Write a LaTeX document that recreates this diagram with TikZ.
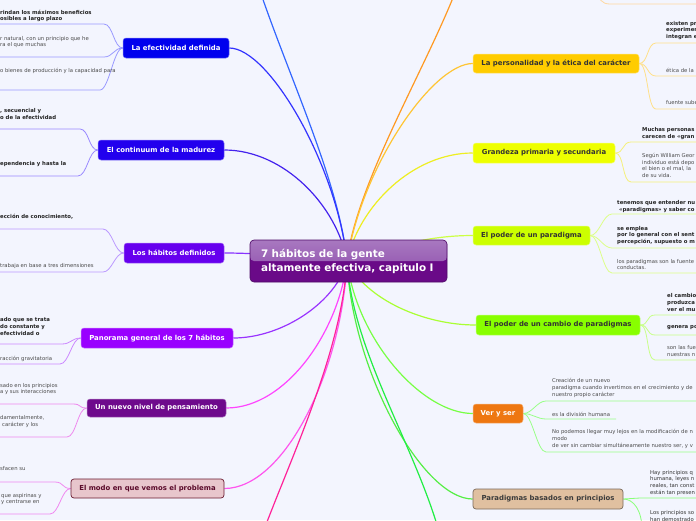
\documentclass[tikz,border=0pt]{standalone}
\usepackage{fontspec}
\setmainfont{DejaVu Sans}
\pgfdeclarelayer{bg}
\pgfsetlayers{bg,main}
\definecolor{bgc}{HTML}{F3F5FE}
\definecolor{cenT}{HTML}{A878C0}
\definecolor{cenM}{HTML}{8C4AAA}
\definecolor{cenB}{HTML}{6A0A88}
\definecolor{cenD}{HTML}{4E0A66}
\definecolor{effF}{HTML}{0000EE}
\definecolor{contF}{HTML}{2200EE}
\definecolor{habF}{HTML}{6600EE}
\definecolor{panF}{HTML}{9900FF}
\definecolor{nivF}{HTML}{6E0A8C}
\definecolor{modoF}{HTML}{E8C6CC}
\definecolor{modoD}{HTML}{6A1A30}
\definecolor{modoT}{HTML}{5A0A2A}
\definecolor{persF}{HTML}{FFCC00}
\definecolor{granF}{HTML}{EEFF00}
\definecolor{parF}{HTML}{CCFF00}
\definecolor{cambF}{HTML}{88FF00}
\definecolor{verF}{HTML}{EE7711}
\definecolor{basF}{HTML}{E0C0A0}
\definecolor{basD}{HTML}{7A6A5A}
\definecolor{lOffB}{HTML}{3366FF}
\definecolor{lEff}{HTML}{3333FF}
\definecolor{lCont}{HTML}{4422EE}
\definecolor{lHab}{HTML}{8833FF}
\definecolor{lPan}{HTML}{9933FF}
\definecolor{lNiv}{HTML}{FF44FF}
\definecolor{lModo}{HTML}{FF55EE}
\definecolor{lOffP}{HTML}{FF2299}
\definecolor{lOffO}{HTML}{FF9922}
\definecolor{lPers}{HTML}{FFC533}
\definecolor{lGran}{HTML}{EEEE22}
\definecolor{lPar}{HTML}{CCFF44}
\definecolor{lCamb}{HTML}{AAFF33}
\definecolor{lVer}{HTML}{77FF44}
\definecolor{lBas}{HTML}{55EE44}
\definecolor{lOffG}{HTML}{22EE44}
\definecolor{sEff}{HTML}{9999FF}
\definecolor{sCont}{HTML}{9988FF}
\definecolor{sHab}{HTML}{BB99FF}
\definecolor{sPan}{HTML}{CC88FF}
\definecolor{sNiv}{HTML}{EE88EE}
\definecolor{sModo}{HTML}{F088F0}
\definecolor{sPers}{HTML}{FFE08A}
\definecolor{sGran}{HTML}{F5F07A}
\definecolor{sPar}{HTML}{DDFF88}
\definecolor{sCamb}{HTML}{C8FF88}
\definecolor{sVer}{HTML}{99FF88}
\definecolor{sBas}{HTML}{88FF77}
\definecolor{sOffO}{HTML}{FFD8A0}
\definecolor{txB}{HTML}{222222}
\definecolor{txN}{HTML}{4A4A4A}
\definecolor{txD}{HTML}{333333}
\newcommand{\subl}[5]{%
  \coordinate (#3) at (#4,#5);
  \coordinate (#3o) at (-3,#5);
  \draw[sub,#1] (#2.west) .. controls +(-9,0) and +(9,0) .. (#3) -- (#3o);}
\newcommand{\subr}[5]{%
  \coordinate (#3) at (#4,#5);
  \coordinate (#3o) at (700,#5);
  \draw[sub,#1] (#2.east) .. controls +(9,0) and +(-9,0) .. (#3) -- (#3o);}
\begin{document}
\begin{tikzpicture}[x=1pt,y=-1pt,
  br/.style={rounded corners=3pt, minimum height=20pt, inner sep=0pt,
    font=\fontsize{6.9}{8}\selectfont\bfseries, text=white, line width=0.5pt},
  central/.style={rounded corners=4pt, draw=cenD, line width=0.6pt, fill=cenB,
    minimum width=197pt, minimum height=42pt, text width=175pt,
    inner xsep=11pt, inner ysep=0pt, align=left,
    font=\fontsize{10.4}{14}\selectfont\bfseries, text=white,
    path picture={\shade[top color=cenT, bottom color=cenM]
      (path picture bounding box.north west) rectangle (path picture bounding box.east);}},
  tb/.style={font=\fontsize{5.35}{6.8}\selectfont\bfseries, text=txB, align=left,
    inner sep=0pt, anchor=west},
  tn/.style={font=\fontsize{5.3}{6.8}\selectfont, text=txN, align=left,
    inner sep=0pt, anchor=west},
  mc/.style={line width=1.2pt},
  sub/.style={line width=0.8pt}]
\useasboundingbox (0,0) rectangle (696,520);
\begin{pgfonlayer}{bg}
\fill[bgc] (0,0) rectangle (696,520);
\end{pgfonlayer}

% central
\node[central] (c) at (348.5,261) {7 hábitos de la gente\\altamente efectiva, capitulo I};
\coordinate (ctr) at (347,261);

% left branches
\node[br, fill=effF, draw=effF!55!white, minimum width=106pt] (eff) at (176,48) {La efectividad definida};
\node[br, fill=contF, draw=contF!55!white, minimum width=126pt] (cont) at (161,150) {El continuum de la madurez};
\node[br, fill=habF, draw=habF!55!white, minimum width=100pt] (hab) at (174,253) {Los hábitos definidos};
\node[br, fill=panF, draw=panF!55!white, minimum width=152pt] (pan) at (157,338) {Panorama general de los 7 hábitos};
\node[br, fill=nivF, draw=nivF!55!white, minimum width=139pt, minimum height=18pt] (niv) at (156.5,408) {Un nuevo nivel de pensamiento};
\node[br, fill=modoF, draw=modoD, line width=0.7pt, text=modoT, minimum width=153pt, minimum height=19pt] (modo) at (147.5,488.5) {El modo en que vemos el problema};

% right branches
\node[br, fill=persF, draw=persF!55!white, text=txD, minimum width=166pt, minimum height=19pt] (pers) at (556,63.5) {La personalidad y la ética del carácter};
\node[br, fill=granF, draw=granF!55!white, text=txD, minimum width=142pt] (gran) at (544,153) {Grandeza primaria y secundaria};
\node[br, fill=parF, draw=parF!55!white, text=txD, minimum width=117pt, minimum height=19pt] (par) at (531.5,235.5) {El poder de un paradigma};
\node[br, fill=cambF, draw=cambF!55!white, text=txD, minimum width=164pt] (camb) at (558,325) {El poder de un cambio de paradigmas};
\node[br, fill=verF, draw=verF!55!white, minimum width=50pt, minimum height=19pt] (ver) at (498,413.5) {Ver y ser};
\node[br, fill=basF, draw=basD, line width=0.7pt, text=txN!80!black, minimum width=150pt] (bas) at (548,499) {Paradigmas basados en principios};

% off-canvas ends
\coordinate (offB) at (258,-15);
\coordinate (offO) at (458,-15);
\coordinate (offP) at (262,535);
\coordinate (offG) at (440,535);

\begin{pgfonlayer}{bg}
\draw[mc,lOffB] (offB) .. controls +(30,90) and +(-8,-80) .. (ctr);
\draw[mc,lEff] (eff.east) .. controls +(40,0) and +(-10,-95) .. (ctr);
\draw[mc,lCont] (cont.east) .. controls +(60,0) and +(-10,-55) .. (ctr);
\draw[mc,lHab] (hab.east) .. controls +(40,0) and +(-40,-3) .. (ctr);
\draw[mc,lPan] (pan.east) .. controls +(50,0) and +(-10,40) .. (ctr);
\draw[mc,lNiv] (niv.east) .. controls +(60,0) and +(-8,70) .. (ctr);
\draw[mc,lModo] (modo.east) .. controls +(60,0) and +(-5,110) .. (ctr);
\draw[mc,lOffP] (offP) .. controls +(30,-80) and +(-5,90) .. (ctr);
\draw[mc,lOffO] (offO) .. controls +(-30,80) and +(10,-80) .. (ctr);
\draw[mc,lPers] (pers.west) .. controls +(-40,0) and +(15,-95) .. (ctr);
\draw[mc,lGran] (gran.west) .. controls +(-60,0) and +(12,-55) .. (ctr);
\draw[mc,lPar] (par.west) .. controls +(-50,0) and +(40,-12) .. (ctr);
\draw[mc,lCamb] (camb.west) .. controls +(-50,0) and +(20,40) .. (ctr);
\draw[mc,lVer] (ver.west) .. controls +(-50,0) and +(10,80) .. (ctr);
\draw[mc,lBas] (bas.west) .. controls +(-50,0) and +(5,110) .. (ctr);
\draw[mc,lOffG] (offG) .. controls +(-25,-90) and +(5,90) .. (ctr);

% sub-branches left
\subl{sEff}{eff}{ea}{104}{24}
\subl{sEff}{eff}{eb}{104}{57}
\subl{sEff}{eff}{ec}{100}{90}
\subl{sCont}{cont}{ca}{80}{129}
\subl{sCont}{cont}{cb}{78}{176}
\subl{sHab}{hab}{ha}{103}{229}
\subl{sHab}{hab}{hb}{103}{272}
\subl{sPan}{pan}{pa}{62}{344}
\subl{sPan}{pan}{pb}{60}{364}
\subl{sNiv}{niv}{na}{73}{404}
\subl{sNiv}{niv}{nb}{67}{437}
\subl{sModo}{modo}{ma}{55}{482}
\subl{sModo}{modo}{mb}{50}{514}

% sub-branches right
\coordinate (oa0) at (598,-12);
\coordinate (oa) at (610,4);
\coordinate (oao) at (700,4);
\draw[sub,sOffO] (oa0) .. controls +(0,12) and +(-8,0) .. (oa) -- (oao);
\subr{sPers}{pers}{ra}{656}{43}
\subr{sPers}{pers}{rb}{656}{76}
\subr{sPers}{pers}{rc}{656}{109}
\subr{sGran}{gran}{ga}{631}{142}
\subr{sGran}{gran}{gb}{631}{182}
\subr{sPar}{par}{qa}{612}{214}
\subr{sPar}{par}{qb}{612}{248}
\subr{sPar}{par}{qc}{612}{273}
\subr{sCamb}{camb}{ka}{655}{315}
\subr{sCamb}{camb}{kb}{655}{335}
\subr{sCamb}{camb}{kc}{655}{360}
\subr{sVer}{ver}{va}{546}{401}
\subr{sVer}{ver}{vc}{546}{452}
\coordinate (vb) at (546,419);
\coordinate (vbo) at (616,419);
\draw[sub,sVer] (ver.east) .. controls +(9,0) and +(-9,0) .. (vb) -- (vbo);
\subr{sBas}{bas}{ba}{640}{498}
\coordinate (bb) at (642,530);
\draw[sub,sBas] (bas.east) .. controls +(10,0) and +(0,-20) .. (bb);
\end{pgfonlayer}

% texts left
\node[tb] (e1) at (0,16) {rindan los máximos beneficios\\osibles a largo plazo};
\node[tn] (e2) at (0,42) {r natural, con un principio que he\\ra el que muchas};
\node[tn] (e3) at (0,71) {o bienes de producción y la capacidad para};
\node[tb] (c1) at (0,114) {, secuencial y\\o de la efectividad};
\node[tb] (c2) at (0,164) {ependencia y hasta la};
\node[tb] (h1) at (0,217) {ección de conocimiento,};
\node[tn] (h2) at (0,266) {trabaja en base a tres dimensiones};
\node[tb] (p1) at (0,326.5) {ado que se trata\\do constante y\\efectividad o};
\node[tn] (p2) at (0,359) {racción gravitatoria};
\node[tn] (n1) at (0,389) {sado en los principios\\a y sus interacciones};
\node[tn] (n2) at (0,421.7) {damentalmente,\\\hspace{2pt}carácter y los};
\node[tn] (m1) at (0,469) {sfacen su};
\node[tn] (m2) at (1,499) {que aspirinas y\\y centrarse en};

% texts right
\node[tb] (r1) at (666,30.5) {existen pr\\experimen\\integran e};
\node[tn] (r2) at (666,70) {ética de la};
\node[tn] (r3) at (666,103) {fuente sube};
\node[tb] (g1) at (642,133.5) {Muchas personas\\carecen de «gran};
\node[tn] (g2) at (642,165.5) {Según William Geor\\individuo está depo\\el bien o el mal, la\\de su vida.};
\node[tb] (q1) at (617,206.5) {tenemos que entender nu\\\hspace{2pt}«paradigmas» y saber co};
\node[tb] (q2) at (617,235.5) {se emplea\\por lo general con el sent\\percepción, supuesto o m};
\node[tn] (q3) at (617,264.5) {los paradigmas son la fuente\\conductas.};
\node[tb] (k1) at (667,302.5) {el cambio\\produzca\\ver el mu};
\node[tb] (k2) at (667,327.7) {genera po};
\node[tn] (k3) at (667,351) {son las fue\\nuestras n};
\node[tn] (v1) at (552,387.7) {Creación de un nuevo\\paradigma cuando invertimos en el crecimiento y de\\nuestro propio carácter};
\node[tn] (v2) at (552,414) {es la división humana};
\node[tn] (v3) at (552,439.2) {No podemos llegar muy lejos en la modificación de n\\modo\\de ver sin cambiar simultáneamente nuestro ser, y v};
\node[tn, text=txD] (b1) at (650,482.9) {Hay principios q\\humana, leyes n\\reales, tan const\\están tan presen};
\node[tn, text=txD] (b2) at (650,515.7) {Los principios so\\han demostrado};
\end{tikzpicture}
\end{document}
